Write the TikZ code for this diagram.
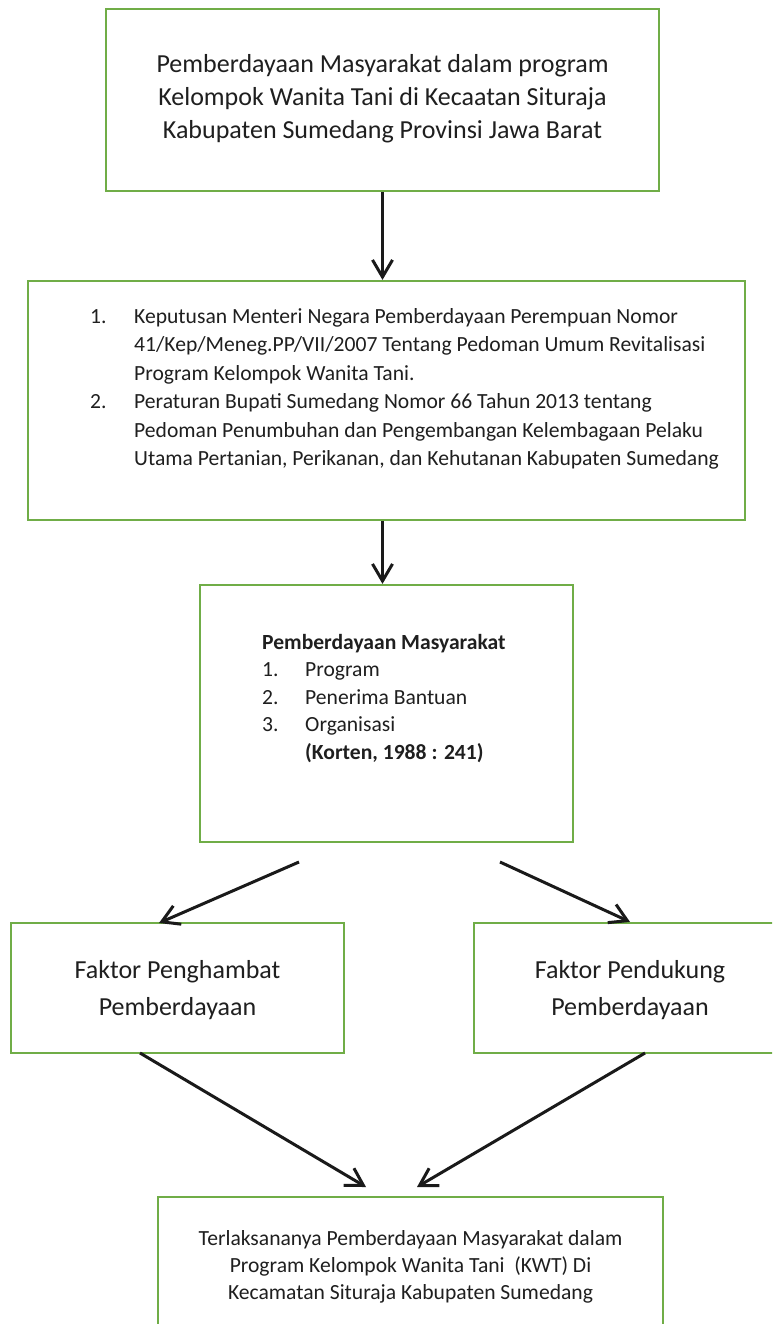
\documentclass[tikz,border=0pt]{standalone}
\usepackage{fontspec}
\setmainfont{Carlito}
\usetikzlibrary{arrows.meta,calc}
\definecolor{boxgreen}{RGB}{112,173,71}
\definecolor{arrowblack}{RGB}{26,26,26}
\begin{document}
\begin{tikzpicture}[x=1pt,y=-1pt,
  box/.style={draw=boxgreen, line width=2.2pt, inner sep=0pt},
  conn/.style={draw=arrowblack, line width=3pt, -{Straight Barb[length=17pt,width=20pt,line width=3pt]}},
  big/.style={font=\fontsize{26}{34}\selectfont, inner sep=0pt, text=black!88},
  small/.style={font=\fontsize{21.6}{28}\selectfont, inner sep=0pt, text=black!88},
]
\useasboundingbox (0,0) rectangle (772,1324);
\clip (0,0) rectangle (772,1324);
\fill[white] (0,0) rectangle (772,1324);

% boxes
\node[box, minimum width=553pt, minimum height=182pt] (b1) at (382.5,100) {};
\node[box, minimum width=717pt, minimum height=239pt] (b2) at (386.5,400.5) {};
\node[box, minimum width=373pt, minimum height=257pt] (b3) at (386.5,713.5) {};
\node[box, minimum width=333pt, minimum height=130pt] (b4) at (177.5,988) {};
\node[box, minimum width=312pt, minimum height=130pt] (b5) at (630,988) {};
\node[box, minimum width=505pt, minimum height=148pt] (b6) at (410.5,1271) {};

% box 1 text
\node[big, anchor=base] (t1a) at (382.5,72.5) {Pemberdayaan Masyarakat dalam program};
\node[big, anchor=base] (t1b) at (382.5,105.5) {Kelompok Wanita Tani di Kecaatan Situraja};
\node[big, anchor=base] (t1c) at (382.5,138.5) {Kabupaten Sumedang Provinsi Jawa Barat};

% box 2 text
\node[small, anchor=base west] (n2a) at (90,323) {1.};
\node[small, anchor=base west] (t2a) at (134,323) {Keputusan Menteri Negara Pemberdayaan Perempuan Nomor};
\node[small, anchor=base west] (t2b) at (134,351.5) {41/Kep/Meneg.PP/VII/2007 Tentang Pedoman Umum Revitalisasi};
\node[small, anchor=base west] (t2c) at (134,380) {Program Kelompok Wanita Tani.};
\node[small, anchor=base west] (n2d) at (90,408.5) {2.};
\node[small, anchor=base west] (t2d) at (134,408.5) {Peraturan Bupati Sumedang Nomor 66 Tahun 2013 tentang};
\node[small, anchor=base west] (t2e) at (134,437) {Pedoman Penumbuhan dan Pengembangan Kelembagaan Pelaku};
\node[small, anchor=base west] (t2f) at (134,465.5) {Utama Pertanian, Perikanan, dan Kehutanan Kabupaten Sumedang};

% box 3 text
\node[small, anchor=base west] (t3h) at (262,649) {\bfseries Pemberdayaan Masyarakat};
\node[small, anchor=base west] (n3a) at (262,676.5) {1.};
\node[small, anchor=base west] (t3a) at (305,676.5) {Program};
\node[small, anchor=base west] (n3b) at (262,704) {2.};
\node[small, anchor=base west] (t3b) at (305,704) {Penerima Bantuan};
\node[small, anchor=base west] (n3c) at (262,731.5) {3.};
\node[small, anchor=base west] (t3c) at (305,731.5) {Organisasi};
\node[small, anchor=base west] (t3d) at (305,759) {\bfseries (Korten, 1988 : 241)};

% box 4 and 5 text
\node[big, anchor=base] (t4a) at (177.5,978.5) {Faktor Penghambat};
\node[big, anchor=base] (t4b) at (177.5,1015.5) {Pemberdayaan};
\node[big, anchor=base] (t5a) at (630,978.5) {Faktor Pendukung};
\node[big, anchor=base] (t5b) at (630,1015.5) {Pemberdayaan};

% box 6 text
\node[small, anchor=base] (t6a) at (410.5,1245) {Terlaksananya Pemberdayaan Masyarakat dalam};
\node[small, anchor=base] (t6b) at (410.5,1272) {Program Kelompok Wanita Tani \ (KWT) Di};
\node[small, anchor=base] (t6c) at (410.5,1299) {Kecamatan Situraja Kabupaten Sumedang};

% connector end points
\coordinate (d1s) at (299,862);
\coordinate (d1e) at (159,923);
\coordinate (d2s) at (500,862);
\coordinate (e1s) at (140,1053);
\coordinate (e1e) at (366,1187);
\coordinate (e2s) at (645,1053);
\coordinate (e2e) at (417,1187);

% connectors
\draw[conn] (b1.south) -- (b1.south |- b2.north);
\draw[conn] (b1.south |- b2.south) -- (b1.south |- b3.north);
\draw[conn] (d1s) -- (d1e);
\draw[conn] (d2s) -- (b5.north);
\draw[conn] (e1s) -- (e1e);
\draw[conn] (e2s) -- (e2e);
\end{tikzpicture}
\end{document}
